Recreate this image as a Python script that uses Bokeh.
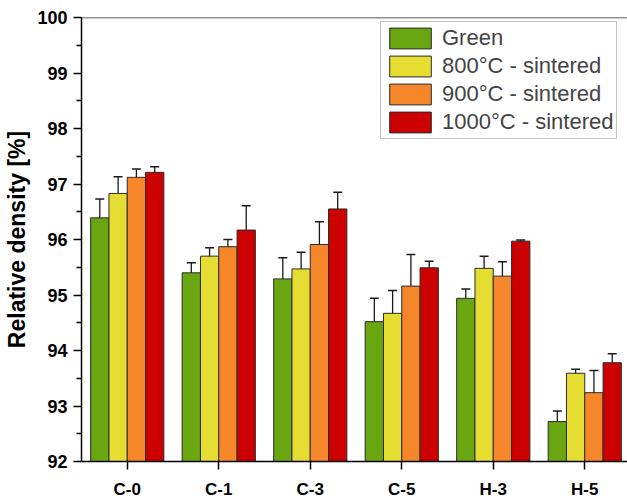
from bokeh.plotting import figure
from bokeh.models import (ColumnDataSource, Whisker, TeeHead, FixedTicker, Span,
                          Legend, LegendItem, Range1d)
from bokeh.embed import file_html
from bokeh.resources import INLINE

categories = ["C-0", "C-1", "C-3", "C-5", "H-3", "H-5"]
series = ["Green", "800°C - sintered", "900°C - sintered", "1000°C - sintered"]
colors = ["#6aa612", "#e6dd32", "#f5872a", "#cc0000"]

green = [96.39, 95.40, 95.29, 94.52, 94.94, 92.72]
green_err = [0.34, 0.18, 0.38, 0.42, 0.17, 0.19]
s800 = [96.83, 95.70, 95.47, 94.67, 95.48, 93.59]
s800_err = [0.30, 0.15, 0.30, 0.41, 0.22, 0.07]
s900 = [97.12, 95.87, 95.91, 95.16, 95.34, 93.24]
s900_err = [0.15, 0.13, 0.41, 0.57, 0.26, 0.40]
s1000 = [97.21, 96.17, 96.55, 95.49, 95.97, 93.78]
s1000_err = [0.10, 0.44, 0.30, 0.12, 0.02, 0.16]

values = [green, s800, s900, s1000]
errors = [green_err, s800_err, s900_err, s1000_err]
offsets = [-0.3, -0.1, 0.1, 0.3]
bar_w = 0.2

FONT = "Liberation Sans"

p = figure(width=627, height=502, output_backend="svg", toolbar_location=None,
           x_range=Range1d(0.5, 6.467), y_range=Range1d(92, 100),
           min_border_left=81, min_border_right=0, min_border_top=17,
           min_border_bottom=41)
p.outline_line_color = None
p.grid.visible = False
p.background_fill_color = "white"
p.border_fill_color = "white"

items = []
for k in range(4):
    xs = [i + 1 + offsets[k] for i in range(len(categories))]
    up = [v + e for v, e in zip(values[k], errors[k])]
    lo = [v - e for v, e in zip(values[k], errors[k])]
    src = ColumnDataSource(dict(x=xs, top=values[k], upper=up, lower=lo))
    r = p.vbar(x="x", top="top", bottom=92, width=bar_w, source=src,
               fill_color=colors[k], line_color="#2b2b2b", line_width=1)
    w = Whisker(base="x", upper="upper", lower="lower", source=src,
                line_color="#1a1a1a", line_width=1.3,
                upper_head=TeeHead(size=9, line_color="#1a1a1a", line_width=1.5),
                lower_head=TeeHead(size=9, line_color="#1a1a1a", line_width=1.5))
    p.add_layout(w)
    items.append(LegendItem(label=series[k], renderers=[r]))

# top frame line
p.add_layout(Span(location=100, dimension="width", line_color="#222222", line_width=1.5))

# x axis
p.xaxis.ticker = FixedTicker(ticks=[1, 2, 3, 4, 5, 6])
p.xaxis.major_label_overrides = {i + 1: c for i, c in enumerate(categories)}
p.xaxis.minor_tick_line_color = None
p.xaxis.major_tick_in = 0
p.xaxis.major_tick_out = 8
p.xaxis.axis_line_width = 1.5
p.xaxis.major_tick_line_width = 1.5
p.xaxis.major_label_text_font = FONT
p.xaxis.major_label_text_font_style = "bold"
p.xaxis.major_label_text_font_size = "17px"
p.xaxis.major_label_text_color = "black"
p.xaxis.major_label_standoff = 10

# y axis
p.yaxis.ticker = FixedTicker(ticks=list(range(92, 101)),
                             minor_ticks=[92.5 + i for i in range(8)])
p.yaxis.major_tick_in = 0
p.yaxis.major_tick_out = 8
p.yaxis.minor_tick_in = 0
p.yaxis.minor_tick_out = 5
p.yaxis.axis_line_width = 1.5
p.yaxis.major_tick_line_width = 1.5
p.yaxis.minor_tick_line_width = 1.5
p.yaxis.major_label_text_font = FONT
p.yaxis.major_label_text_font_style = "bold"
p.yaxis.major_label_text_font_size = "18px"
p.yaxis.major_label_text_color = "black"
p.yaxis.major_label_standoff = 6
p.yaxis.axis_label = "Relative density [%]"
p.yaxis.axis_label_text_font = FONT
p.yaxis.axis_label_text_font_style = "bold"
p.yaxis.axis_label_text_font_size = "23px"
p.yaxis.axis_label_text_color = "black"
p.yaxis.axis_label_standoff = 4

legend = Legend(items=items, location=(299, 322))
legend.glyph_width = 52
legend.glyph_height = 26
legend.label_text_font = FONT
legend.label_text_font_size = "22px"
legend.label_height = 26
legend.spacing = 2
legend.padding = 3
legend.margin = 0
legend.label_standoff = 6
legend.border_line_color = "#8a8a8a"
legend.border_line_width = 1.5
legend.background_fill_alpha = 1
p.add_layout(legend, "center")

open("out.html", "w").write(file_html(p, INLINE))
